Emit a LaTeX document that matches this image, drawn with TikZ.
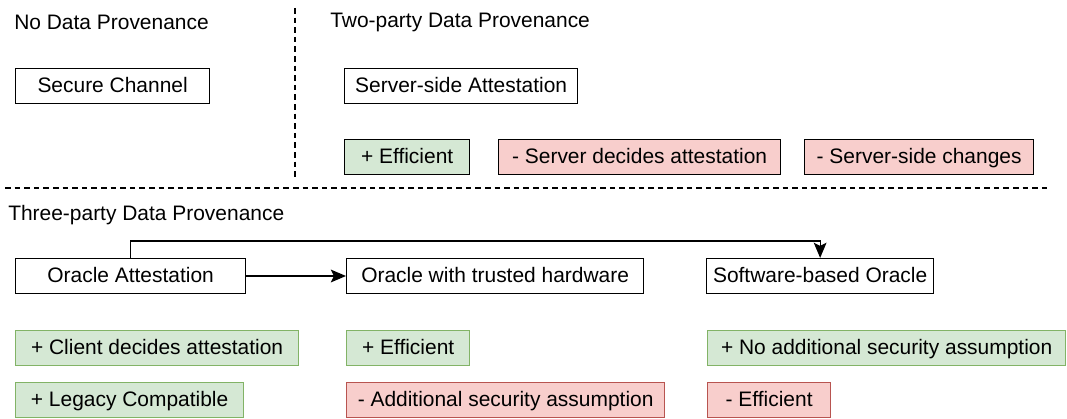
\documentclass[tikz,border=0pt]{standalone}
\usepackage{fontspec}
\setmainfont{Liberation Sans}
\usetikzlibrary{arrows.meta}

\definecolor{proFill}{HTML}{D5E8D4}
\definecolor{proLine}{HTML}{82B366}
\definecolor{conFill}{HTML}{F8CECC}
\definecolor{conLine}{HTML}{B85450}

\tikzset{
    box/.style={draw, line width=0.9pt, anchor=west, minimum height=0.875cm, inner sep=0pt,
        text height=12pt, text depth=3pt},
    pro/.style={box, fill=proFill, draw=proLine},
    con/.style={box, fill=conFill, draw=conLine},
    title/.style={anchor=west, inner sep=0pt},
    sep/.style={line width=1pt, dash pattern=on 0.14cm off 0.1cm},
    link/.style={line width=0.9pt, -{Stealth[length=0.38cm, width=0.32cm, inset=0.08cm]}}
}

\begin{document}
\begin{tikzpicture}[font=\fontsize{14.9}{18}\selectfont]
\useasboundingbox (0,0) rectangle (26.675,-10.45);

% separators
\draw [sep] (7.375, -0.2) -- (7.375, -4.425);
\draw [sep] (0.125, -4.7) -- (26.275, -4.7);

% titles
\node [title] (tNone) at (0.35, -0.55) {No Data Provenance};
\node [title] (tTwo) at (8.25, -0.55) {Two-party Data Provenance};
\node [title] (tThree) at (0.2, -5.375) {Three-party Data Provenance};

% no / two-party
\node [box, minimum width=4.85cm] (sc) at (0.375, -2.15) {Secure Channel};
\node [box, minimum width=5.825cm] (ssa) at (8.6, -2.15) {Server-side Attestation};
\node [box, fill=proFill, minimum width=3.125cm] (effTwo) at (8.6, -3.925) {+ Efficient};
\node [box, fill=conFill, minimum width=7.05cm] (sda) at (12.45, -3.925) {- Server decides attestation};
\node [box, fill=conFill, minimum width=5.725cm] (ssc) at (20.1, -3.925) {- Server-side changes};

% three-party
\node [box, minimum width=5.75cm] (oa) at (0.375, -6.9) {Oracle Attestation};
\node [box, minimum width=7.425cm] (oth) at (8.65, -6.9) {Oracle with trusted hardware};
\node [box, minimum width=5.675cm] (sbo) at (17.65, -6.9) {Software-based Oracle};

\draw [link] (oa) -- (oth);
\draw [link] (oa.north) -- ++(0, 0.425) -| (sbo.north);

% pros and cons
\node [pro, minimum width=7.075cm] (cda) at (0.375, -8.7) {+ Client decides attestation};
\node [pro, minimum width=5.7cm] (lc) at (0.375, -10.0) {+ Legacy Compatible};
\node [pro, minimum width=3.075cm] (effHw) at (8.65, -8.7) {+ Efficient};
\node [con, minimum width=7.95cm] (asa) at (8.65, -10.0) {- Additional security assumption};
\node [pro, minimum width=8.95cm] (nasa) at (17.675, -8.7) {+ No additional security assumption};
\node [con, minimum width=3.075cm] (effSw) at (17.675, -10.0) {- Efficient};

\end{tikzpicture}
\end{document}
